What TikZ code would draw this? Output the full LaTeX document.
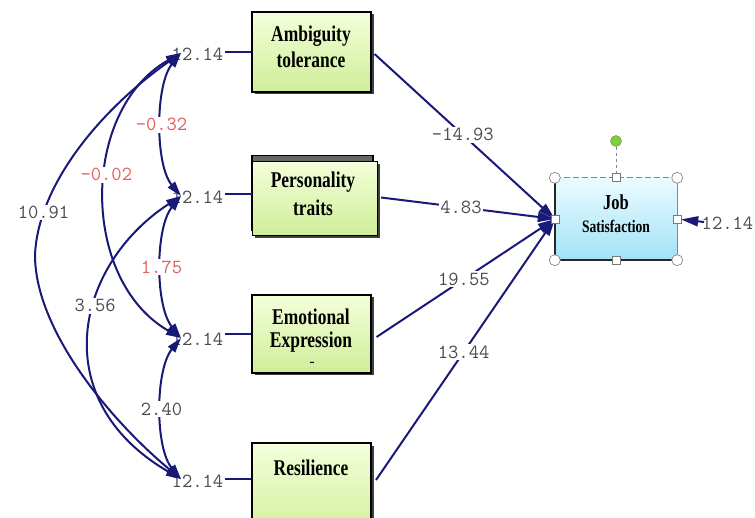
\documentclass[tikz,border=0pt]{standalone}
\usepackage{fontspec}
\setmainfont{Liberation Serif}
\usetikzlibrary{arrows.meta,shadows}
\definecolor{navy}{RGB}{25,25,120}
\definecolor{numgray}{RGB}{75,75,75}
\definecolor{numred}{RGB}{228,92,92}
\definecolor{gtop}{RGB}{244,255,218}
\definecolor{gbot}{RGB}{206,238,152}
\definecolor{btop}{RGB}{236,251,255}
\definecolor{bbot}{RGB}{160,226,248}
\definecolor{steel}{RGB}{110,140,165}
\definecolor{handlegray}{RGB}{120,120,120}
\definecolor{knob}{RGB}{130,205,60}
\tikzset{
  box/.style={draw=black, line width=1.1pt, top color=gtop, bottom color=gbot,
    drop shadow={shadow xshift=2.5pt, shadow yshift=-2.5pt, fill=black!75, opacity=1},
    inner sep=0pt, minimum width=119pt},
  boxtext/.style={font=\bfseries\fontsize{18}{20}\selectfont, inner sep=0pt, anchor=base},
  num/.style={font=\ttfamily\fontsize{20}{24}\selectfont, text=numgray, inner sep=1.5pt},
  lab/.style={num, fill=white},
  redlab/.style={lab, text=numred},
  link/.style={draw=navy, line width=2pt},
  cov/.style={link, {Triangle[length=15pt,width=9pt]}-{Triangle[length=15pt,width=9pt]}},
  path/.style={link, -{Triangle[length=17pt,width=10pt]}},
  hcirc/.style={circle, draw=handlegray, fill=white, line width=0.6pt, minimum size=11pt, inner sep=0pt},
  hsq/.style={rectangle, draw=handlegray, fill=white, line width=0.6pt, minimum size=8pt, inner sep=0pt},
}
\newcommand{\vs}[1]{\scalebox{0.97}[1.25]{#1}}
\begin{document}
\begin{tikzpicture}[x=1pt, y=-1pt]
\useasboundingbox (0,0) rectangle (755,518);
\clip (0,0) rectangle (755,518);
\fill[white] (0,0) rectangle (755,518);

% observed variables
\node[box, minimum height=80pt] (b1) at (311.5,52) {};
\node[draw=black, line width=1.1pt, fill=black!60, minimum width=121pt, minimum height=75pt, inner sep=0pt] (b2s) at (312.5,193) {};
\node[box, minimum width=125pt, minimum height=74pt] (b2) at (315,198.5) {};
\node[box, minimum height=78pt] (b3) at (311.5,334) {};
\node[box, minimum height=100pt] (b4) at (311.5,493) {};

\node[boxtext] (t1a) at (311,42) {\vs{Ambiguity}};
\node[boxtext] (t1b) at (311,68) {\vs{tolerance}};
\node[boxtext] (t2a) at (313,188) {\vs{Personality}};
\node[boxtext] (t2b) at (313,216) {\vs{traits}};
\node[boxtext] (t3a) at (311,325) {\vs{Emotional}};
\node[boxtext] (t3b) at (311,348) {\vs{Expression}};
\node[font=\bfseries\fontsize{15}{18}\selectfont, inner sep=0pt] (t3c) at (312,364) {-};
\node[boxtext] (t4a) at (311,475) {\vs{Resilience}};

% variances of the exogenous variables
\node[num, anchor=base west] (v1) at (170,61) {12.14};
\node[num, anchor=base west] (v2) at (170,204) {12.14};
\node[num, anchor=base west] (v3) at (170,346) {12.14};
\node[num, anchor=base west] (v4) at (170,487) {12.14};
\coordinate (c1) at (181,53);
\coordinate (c2) at (181,196);
\coordinate (c3) at (181,338);
\coordinate (c4) at (181,479);
\draw[link] (v1.east |- b1.west) -- (b1.west);
\draw[link] (v2.east |- 0,194) -- (b2.west |- 0,194);
\draw[link] (v3.east |- b3.west) -- (b3.west);
\draw[link] (v4.east |- 0,479) -- (b4.west |- 0,479);

% covariances
\draw[cov] (c1) .. controls (155,85) and (155,165) .. (c2) node[redlab, pos=0.5] {-0.32};
\draw[cov] (c2) .. controls (155,228) and (155,306) .. (c3) node[redlab, pos=0.5] {1.75};
\draw[cov] (c3) .. controls (155,370) and (155,448) .. (c4) node[lab, pos=0.5] {2.40};
\draw[cov] (c1) .. controls (80,110) and (80,280) .. (c3) node[redlab, pos=0.44] {-0.02};
\draw[cov] (c2) .. controls (75,265) and (45,400) .. (c4) node[lab, pos=0.41] {3.56};
\draw[cov] (c1) .. controls (100,110) and (38,185) .. (35,255) node[lab, pos=0.8] {10.91}
  .. controls (35,330) and (110,420) .. (c4);

% endogenous variable
\node[inner sep=0pt, minimum width=122pt, minimum height=82pt, top color=btop, bottom color=bbot] (js) at (616,219) {};
\node[boxtext, font=\bfseries\fontsize{17}{20}\selectfont] (jt1) at (616,210) {\vs{Job}};
\node[boxtext, font=\bfseries\fontsize{14}{20}\selectfont] (jt2) at (616,233) {\vs{Satisfaction}};
\draw[black!85, line width=2pt] (js.north west) -- (js.south west) -- (js.south east);
\draw[steel, line width=0.8pt] (js.south east) -- (js.north east);
\draw[steel, line width=1pt, dash pattern=on 6pt off 3pt] (js.north west) -- (js.north east);

% paths
\coordinate (s1) at ([shift={(3,2)}]b1.east);
\coordinate (s2) at ([shift={(3,-1)}]b2.east);
\coordinate (s3) at ([shift={(5,3)}]b3.east);
\coordinate (s4) at (376,480);
\draw[path] (s1) -- (js.west) node[lab, pos=0.49] {-14.93};
\draw[path] (s2) -- (js.west) node[lab, pos=0.46] {4.83};
\draw[path] (s3) -- (js.west) node[lab, pos=0.49] {19.55};
\draw[path] (s4) -- (js.west) node[lab, pos=0.49] {13.44};

% error variance
\node[num, anchor=base west] (ve) at (700,230) {12.14};
\coordinate (ce) at (704,222);
\draw[path, shorten >=4pt] (ce) -- (js.east);

% selection handles
\node[circle, fill=knob, draw=knob!70!black, line width=0.4pt, minimum size=11pt, inner sep=0pt] (kn) at (616,141) {};
\draw[steel, line width=0.8pt, dashed] (kn) -- (js.north);
\node[hcirc] (h1) at (js.north west) {};
\node[hcirc] (h2) at (js.north east) {};
\node[hcirc] (h3) at (js.south west) {};
\node[hcirc] (h4) at (js.south east) {};
\node[hsq] (h5) at (js.north) {};
\node[hsq] (h6) at (js.south) {};
\node[hsq] (h7) at (js.west) {};
\node[hsq] (h8) at (js.east) {};
\end{tikzpicture}
\end{document}
